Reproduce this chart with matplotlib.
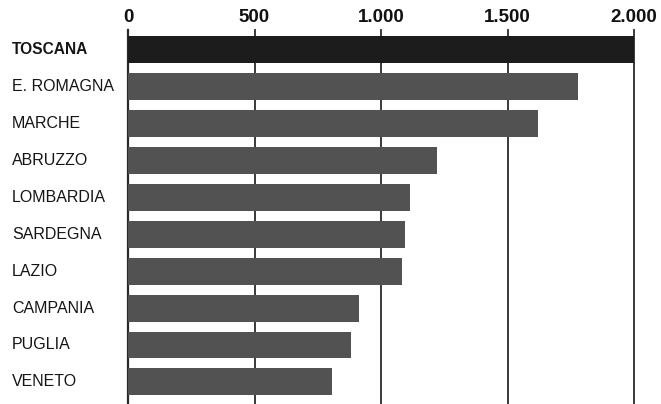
import matplotlib.pyplot as plt
import matplotlib.transforms as mtransforms

# Data
regions = ['TOSCANA', 'E. ROMAGNA', 'MARCHE', 'ABRUZZO', 'LOMBARDIA',
           'SARDEGNA', 'LAZIO', 'CAMPANIA', 'PUGLIA', 'VENETO']
values = [2000, 1780, 1620, 1220, 1115, 1095, 1083, 913, 881, 806]
ticks = [0, 500, 1000, 1500, 2000]
tick_labels = ['0', '500', '1.000', '1.500', '2.000']

plt.rcParams['font.family'] = ['Liberation Sans Narrow', 'Liberation Sans', 'DejaVu Sans']

fig = plt.figure(figsize=(6.61, 4.04), dpi=100)
ax = fig.add_axes([128 / 661, 0, (634 - 128) / 661, 1 - 30 / 404])

colors = ['#1c1c1c'] + ['#525252'] * (len(regions) - 1)
ax.barh(range(len(regions)), values, height=0.73, color=colors, zorder=3)

ax.set_xlim(0, 2000)
ax.set_ylim(9.6, -0.54)

# vertical gridlines / zero axis
for t in ticks:
    lw = 1.6 if t == 0 else 1.3
    ax.axvline(t, color='#2a2a2a', lw=lw, zorder=2, clip_on=False)

for s in ax.spines.values():
    s.set_visible(False)
ax.set_xticks([])
ax.set_yticks([])

# top value labels
for t, lab in zip(ticks, tick_labels):
    fig.text((128 + t * 506 / 2000) / 661, 1 - 17 / 404, lab, ha='center', va='center',
             fontsize=13.5, fontweight='bold', color='#111111')

# category labels on the left
trans = mtransforms.blended_transform_factory(fig.transFigure, ax.transData)
for i, name in enumerate(regions):
    bold = i == 0
    ax.text(12 / 661, i, name, transform=trans, ha='left', va='center',
            fontsize=11.2 if bold else 11.5, color='#151515',
            fontweight='bold' if bold else 'normal')

fig.savefig('out.png', dpi=100, facecolor='white')
